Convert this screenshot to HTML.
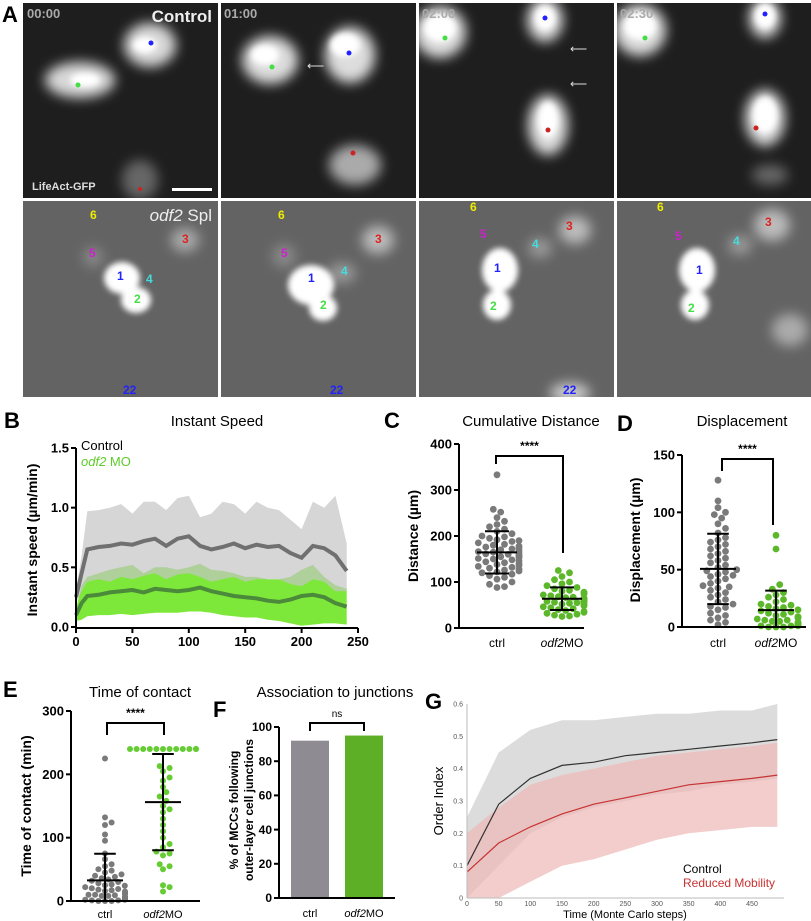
<!DOCTYPE html>
<html><head><meta charset="utf-8"><style>
html,body{margin:0;padding:0;background:#fff}
svg{display:block;font-family:"Liberation Sans",sans-serif}
</style></head><body>
<svg id="fig" width="811" height="921" viewBox="0 0 811 921" xmlns="http://www.w3.org/2000/svg">
<defs>
<filter id="blur4" x="-50%" y="-50%" width="200%" height="200%"><feGaussianBlur stdDeviation="6"/></filter>
<filter id="blur2" x="-50%" y="-50%" width="200%" height="200%"><feGaussianBlur stdDeviation="3"/></filter>
<clipPath id="c1"><rect x="23" y="3" width="195" height="195"/></clipPath>
<clipPath id="c2"><rect x="221" y="3" width="195" height="195"/></clipPath>
<clipPath id="c3"><rect x="419" y="3" width="195" height="195"/></clipPath>
<clipPath id="c4"><rect x="617" y="3" width="194" height="195"/></clipPath>
<clipPath id="c5"><rect x="23" y="201" width="195" height="196"/></clipPath>
<clipPath id="c6"><rect x="221" y="201" width="195" height="196"/></clipPath>
<clipPath id="c7"><rect x="419" y="201" width="195" height="196"/></clipPath>
<clipPath id="c8"><rect x="617" y="201" width="194" height="196"/></clipPath>
</defs>
<text x="2" y="22" font-size="22" font-weight="bold">A</text>
<g>
 <g clip-path="url(#c1)">
  <rect x="23" y="3" width="195" height="195" fill="#1e1e1e"/>
  <g filter="url(#blur4)" fill="#d8d8d8"><ellipse cx="150" cy="45" rx="26" ry="22"/><ellipse cx="80" cy="80" rx="35" ry="18"/><ellipse cx="140" cy="180" rx="18" ry="20" fill="#666"/></g>
  <g filter="url(#blur2)" fill="#fff"><ellipse cx="145" cy="45" rx="12" ry="8"/><ellipse cx="85" cy="80" rx="15" ry="7"/></g>
  <circle cx="151" cy="43" r="2.5" fill="#2222ff"/><circle cx="78" cy="85" r="2.5" fill="#44dd44"/><circle cx="140" cy="189" r="2" fill="#cc2222"/>
  <text x="27" y="18" font-size="13" font-weight="bold" fill="#aaa">00:00</text>
  <text x="212" y="22" font-size="17" font-weight="bold" fill="#eee" text-anchor="end">Control</text>
  <text x="32" y="190" font-size="11" font-weight="bold" fill="#ddd">LifeAct-GFP</text>
  <rect x="172" y="188" width="40" height="3" fill="#fff"/>
 </g>
 <g clip-path="url(#c2)">
  <rect x="221" y="3" width="195" height="195" fill="#1e1e1e"/>
  <g filter="url(#blur4)" fill="#ddd"><ellipse cx="270" cy="60" rx="28" ry="24"/><ellipse cx="350" cy="55" rx="25" ry="28"/><ellipse cx="355" cy="165" rx="26" ry="20" fill="#aaa"/></g>
  <g filter="url(#blur2)" fill="#fff"><ellipse cx="265" cy="55" rx="14" ry="10"/><ellipse cx="345" cy="45" rx="15" ry="12"/></g>
  <circle cx="272" cy="67" r="2.5" fill="#44dd44"/><circle cx="349" cy="53" r="2.5" fill="#2222ff"/><circle cx="353" cy="153" r="2.5" fill="#cc2222"/>
  <text x="307" y="70" font-size="12" fill="#ddd">⟵</text>
  <text x="224" y="18" font-size="13" font-weight="bold" fill="#aaa">01:00</text>
 </g>
 <g clip-path="url(#c3)">
  <rect x="419" y="3" width="195" height="195" fill="#1e1e1e"/>
  <g filter="url(#blur4)" fill="#ddd"><ellipse cx="440" cy="32" rx="26" ry="26"/><ellipse cx="545" cy="20" rx="18" ry="22"/><ellipse cx="548" cy="125" rx="20" ry="30"/></g>
  <g filter="url(#blur2)" fill="#fff"><ellipse cx="440" cy="28" rx="16" ry="14"/><ellipse cx="545" cy="18" rx="10" ry="12"/><ellipse cx="548" cy="120" rx="10" ry="18"/></g>
  <circle cx="445" cy="38" r="2.5" fill="#44dd44"/><circle cx="545" cy="18" r="2.5" fill="#2222ff"/><circle cx="548" cy="130" r="2.5" fill="#cc2222"/>
  <text x="570" y="53" font-size="12" fill="#ddd">⟵</text><text x="570" y="88" font-size="12" fill="#ddd">⟵</text>
  <text x="422" y="18" font-size="13" font-weight="bold" fill="#aaa">02:00</text>
 </g>
 <g clip-path="url(#c4)">
  <rect x="617" y="3" width="194" height="195" fill="#1e1e1e"/>
  <g filter="url(#blur4)" fill="#ddd"><ellipse cx="640" cy="30" rx="26" ry="26"/><ellipse cx="765" cy="18" rx="16" ry="20"/><ellipse cx="765" cy="118" rx="20" ry="28"/><ellipse cx="770" cy="175" rx="18" ry="10" fill="#666"/></g>
  <g filter="url(#blur2)" fill="#fff"><ellipse cx="640" cy="26" rx="16" ry="14"/><ellipse cx="765" cy="16" rx="10" ry="12"/><ellipse cx="765" cy="115" rx="12" ry="18"/></g>
  <circle cx="645" cy="38" r="2.5" fill="#44dd44"/><circle cx="765" cy="14" r="2.5" fill="#2222ff"/><circle cx="756" cy="128" r="2.5" fill="#cc2222"/>
  <text x="620" y="18" font-size="13" font-weight="bold" fill="#aaa">02:30</text>
 </g>
</g>
<g>
 <g clip-path="url(#c5)">
  <rect x="23" y="201" width="195" height="196" fill="#636363"/>
  <g filter="url(#blur4)" fill="#ddd"><ellipse cx="185" cy="240" rx="14" ry="12" fill="#aaa"/><ellipse cx="93" cy="257" rx="10" ry="10" fill="#888"/></g>
  <g filter="url(#blur2)" fill="#fff"><ellipse cx="122" cy="278" rx="18" ry="16"/><ellipse cx="136" cy="300" rx="15" ry="13"/></g>
  <text x="90" y="219" font-size="12" font-weight="bold" fill="#ee0">6</text><text x="182" y="243" font-size="12" font-weight="bold" fill="#d22">3</text><text x="89" y="257" font-size="12" font-weight="bold" fill="#c2c">5</text><text x="117" y="280" font-size="12" font-weight="bold" fill="#22f">1</text><text x="146" y="283" font-size="12" font-weight="bold" fill="#4dd">4</text><text x="134" y="303" font-size="12" font-weight="bold" fill="#4d4">2</text>
  <text x="212" y="221" font-size="17" fill="#eee" text-anchor="end"><tspan font-style="italic">odf2</tspan> Spl</text>
 </g>
 <g clip-path="url(#c6)">
  <rect x="221" y="201" width="195" height="196" fill="#636363"/>
  <g filter="url(#blur4)"><ellipse cx="378" cy="240" rx="16" ry="14" fill="#bbb"/><ellipse cx="284" cy="256" rx="12" ry="12" fill="#888"/><ellipse cx="342" cy="273" rx="14" ry="10" fill="#999"/></g>
  <g filter="url(#blur2)" fill="#fff"><ellipse cx="311" cy="285" rx="23" ry="20"/><ellipse cx="323" cy="308" rx="14" ry="13"/></g>
  <text x="278" y="219" font-size="12" font-weight="bold" fill="#ee0">6</text><text x="375" y="243" font-size="12" font-weight="bold" fill="#d22">3</text><text x="281" y="257" font-size="12" font-weight="bold" fill="#c2c">5</text><text x="308" y="282" font-size="12" font-weight="bold" fill="#22f">1</text><text x="341" y="275" font-size="12" font-weight="bold" fill="#4dd">4</text><text x="320" y="309" font-size="12" font-weight="bold" fill="#4d4">2</text>
 </g>
 <g clip-path="url(#c7)">
  <rect x="419" y="201" width="195" height="196" fill="#636363"/>
  <g filter="url(#blur4)"><ellipse cx="575" cy="230" rx="16" ry="14" fill="#bbb"/><ellipse cx="540" cy="248" rx="12" ry="10" fill="#999"/><ellipse cx="570" cy="393" rx="20" ry="10" fill="#ccc"/></g>
  <g filter="url(#blur2)" fill="#fff"><ellipse cx="500" cy="270" rx="18" ry="22"/><ellipse cx="497" cy="305" rx="14" ry="15"/></g>
  <text x="470" y="211" font-size="12" font-weight="bold" fill="#ee0">6</text><text x="566" y="230" font-size="12" font-weight="bold" fill="#d22">3</text><text x="480" y="238" font-size="12" font-weight="bold" fill="#c2c">5</text><text x="494" y="272" font-size="12" font-weight="bold" fill="#22f">1</text><text x="532" y="248" font-size="12" font-weight="bold" fill="#4dd">4</text><text x="490" y="310" font-size="12" font-weight="bold" fill="#4d4">2</text><text x="563" y="394" font-size="12" font-weight="bold" fill="#22f">22</text>
 </g>
 <g clip-path="url(#c8)">
  <rect x="617" y="201" width="194" height="196" fill="#636363"/>
  <g filter="url(#blur4)"><ellipse cx="772" cy="225" rx="18" ry="16" fill="#bbb"/><ellipse cx="740" cy="245" rx="12" ry="10" fill="#999"/><ellipse cx="790" cy="330" rx="18" ry="16" fill="#aaa"/></g>
  <g filter="url(#blur2)" fill="#fff"><ellipse cx="697" cy="270" rx="18" ry="22"/><ellipse cx="695" cy="305" rx="14" ry="15"/></g>
  <text x="657" y="211" font-size="12" font-weight="bold" fill="#ee0">6</text><text x="765" y="226" font-size="12" font-weight="bold" fill="#d22">3</text><text x="675" y="240" font-size="12" font-weight="bold" fill="#c2c">5</text><text x="696" y="274" font-size="12" font-weight="bold" fill="#22f">1</text><text x="733" y="245" font-size="12" font-weight="bold" fill="#4dd">4</text><text x="688" y="312" font-size="12" font-weight="bold" fill="#4d4">2</text>
 </g>
 <g><text x="123" y="394" font-size="12" font-weight="bold" fill="#22f">22</text><text x="330" y="394" font-size="12" font-weight="bold" fill="#22f">22</text></g>
</g>
<g id="charts"></g>
</svg>
<script>
// ---------- Panel B data ----------
const bTime = [0,5,10,20,30,40,50,60,70,80,90,100,110,120,130,140,150,160,170,180,190,200,210,220,230,240];
const bCtrlMean = [0.25,0.45,0.65,0.67,0.68,0.70,0.69,0.72,0.74,0.68,0.74,0.76,0.68,0.65,0.67,0.70,0.66,0.69,0.67,0.68,0.62,0.58,0.68,0.66,0.60,0.47];
const bCtrlUpper = [0.30,0.60,0.97,0.98,1.00,1.03,0.95,1.05,1.05,0.98,1.08,1.10,0.92,0.95,1.05,1.03,0.95,1.05,1.00,0.98,0.90,0.82,1.05,1.00,1.10,0.70];
const bCtrlLower = [0.20,0.30,0.38,0.40,0.38,0.42,0.40,0.43,0.45,0.40,0.44,0.45,0.42,0.38,0.40,0.42,0.38,0.40,0.40,0.40,0.36,0.34,0.40,0.38,0.30,0.30];
const bOdfMean = [0.10,0.20,0.26,0.27,0.29,0.30,0.31,0.29,0.32,0.31,0.30,0.31,0.33,0.30,0.28,0.26,0.25,0.24,0.22,0.21,0.23,0.26,0.27,0.25,0.20,0.17];
const bOdfUpper = [0.15,0.35,0.42,0.45,0.48,0.50,0.52,0.45,0.50,0.50,0.48,0.50,0.53,0.48,0.47,0.45,0.42,0.42,0.40,0.40,0.42,0.48,0.52,0.42,0.35,0.32];
const bOdfLower = [0.05,0.06,0.09,0.10,0.10,0.11,0.10,0.11,0.12,0.12,0.12,0.13,0.13,0.12,0.10,0.09,0.08,0.08,0.06,0.05,0.03,0.01,0.02,0.03,0.03,0.02];
const bXTicks = [0,50,100,150,200,250];
const bYTicks = [0.0,0.5,1.0,1.5];
// ---------- Panel C data ----------
const cCtrl = [333,258,252,240,232,225,220,215,210,205,200,198,195,192,190,188,185,182,180,178,176,174,172,170,168,166,165,163,161,160,158,156,155,153,151,150,148,146,144,142,140,138,136,134,132,130,128,126,124,122,120,117,114,110,106,100,95,90,88];
const cOdf = [125,120,112,105,100,96,92,88,85,82,80,78,76,74,72,70,68,67,66,65,64,63,62,61,60,59,58,57,56,55,54,53,52,50,48,46,44,42,40,38,36,34,32,30,28,26,25];
const cYTicks = [0,100,200,300,400];
// ---------- Panel D data ----------
const dCtrl = [128,110,104,100,98,95,90,86,82,78,76,74,72,70,68,66,64,62,60,58,56,54,52,50,49,48,46,45,44,42,40,38,36,35,34,32,30,28,26,24,22,20,18,17,15,12,10,8,6,4,2];
const dOdf = [80,68,37,33,30,28,26,24,22,20,19,18,17,16,15,14,13,12,11,10,9,8,8,7,6,6,5,5,4,4,3,3,2,2,1,1,1,0,0,0];
const dYTicks = [0,50,100,150];
// ---------- Panel E data ----------
const eCtrl = [225,132,124,120,105,95,75,66,58,55,50,48,45,42,40,38,36,34,32,30,28,26,25,24,22,20,19,18,17,16,15,14,13,12,11,10,10,9,8,8,7,6,6,5,5,4,4,3,3,2,2,1,1,0,0,0];
const eOdf = [240,240,240,240,240,240,240,240,240,240,240,240,213,210,205,195,190,180,172,165,158,150,145,140,130,120,110,100,90,85,78,75,72,58,55,50,25,22,15];
const eYTicks = [0,100,200,300];
// ---------- Panel F data ----------
const fCats = ["ctrl","odf2MO"];
const fVals = [92,95];
const fYTicks = [0,20,40,60,80,100];
// ---------- Panel G data ----------
const gSteps = [0,50,100,150,200,250,300,350,400,450,490];
const gCtrlMean = [0.10,0.29,0.37,0.41,0.42,0.44,0.45,0.46,0.47,0.48,0.49];
const gCtrlUpper = [0.25,0.45,0.52,0.55,0.55,0.56,0.57,0.57,0.58,0.58,0.60];
const gCtrlLower = [0.00,0.10,0.20,0.25,0.28,0.30,0.32,0.33,0.35,0.36,0.37];
const gRedMean = [0.08,0.17,0.22,0.26,0.29,0.31,0.33,0.35,0.36,0.37,0.38];
const gRedUpper = [0.20,0.28,0.35,0.38,0.40,0.42,0.44,0.45,0.46,0.47,0.48];
const gRedLower = [0.00,0.00,0.05,0.10,0.12,0.15,0.18,0.20,0.21,0.22,0.22];
const gXTicks = [0,50,100,150,200,250,300,350,400,450];
const gYTicks = [0,0.1,0.2,0.3,0.4,0.5,0.6];

const NS = "http://www.w3.org/2000/svg";
const root = document.getElementById("charts");
function add(parent, tag, attrs, name, text) {
  const el = document.createElementNS(NS, tag);
  for (const k in attrs) el.setAttribute(k, attrs[k]);
  
  
  if (text !== undefined) el.textContent = text;
  parent.appendChild(el);
  return el;
}
function lin(d0, d1, r0, r1) { return v => r0 + (v - d0) * (r1 - r0) / (d1 - d0); }
function mean(a) { return a.reduce((s, v) => s + v, 0) / a.length; }
function sd(a) { const m = mean(a); return Math.sqrt(a.reduce((s, v) => s + (v - m) * (v - m), 0) / (a.length - 1)); }
function bandPath(xs, up, lo, sx, sy) {
  let d = "";
  xs.forEach((x, i) => { d += (i ? "L" : "M") + sx(x).toFixed(1) + "," + sy(up[i]).toFixed(1); });
  for (let i = xs.length - 1; i >= 0; i--) d += "L" + sx(xs[i]).toFixed(1) + "," + sy(lo[i]).toFixed(1);
  return d + "Z";
}
function linePath(xs, ys, sx, sy) {
  return xs.map((x, i) => (i ? "L" : "M") + sx(x).toFixed(1) + "," + sy(ys[i]).toFixed(1)).join("");
}
function yAxis(g, x, y0, y1, ticks, sy, fmt, size, name) {
  add(g, "line", {x1: x, y1: y0, x2: x, y2: y1, stroke: "#000", "stroke-width": 2}, name + "-line");
  ticks.forEach(t => {
    add(g, "line", {x1: x - 5, y1: sy(t), x2: x, y2: sy(t), stroke: "#000", "stroke-width": 2}, name + "-tick");
    add(g, "text", {x: x - 7, y: sy(t) + size * 0.35, "font-size": size, "font-weight": "bold", "text-anchor": "end"}, name + "-tick-label", fmt(t));
  });
}
function swarm(g, vals, cx, sy, r, color, name, maxw) {
  const sorted = vals.slice().sort((a, b) => a - b);
  const placed = [];
  sorted.forEach(v => {
    const y = sy(v);
    let off = 0;
    for (let k = 0; k < 60; k++) {
      const cand = k === 0 ? 0 : (k % 2 ? 1 : -1) * Math.ceil(k / 2) * r * 1.1;
      if (Math.abs(cand) > maxw) { off = (k % 2 ? 1 : -1) * maxw; break; }
      if (placed.every(p => (p.x - (cx + cand)) ** 2 + (p.y - y) ** 2 >= (2 * r * 0.95) ** 2)) { off = cand; break; }
    }
    placed.push({x: cx + off, y: y});
    add(g, "circle", {cx: (cx + off).toFixed(1), cy: y.toFixed(1), r: r, fill: color}, name);
  });
}
function errBar(g, vals, cx, sy, w, name) {
  const m = mean(vals), s = sd(vals);
  add(g, "line", {x1: cx, y1: sy(Math.max(m - s, 0)), x2: cx, y2: sy(m + s), stroke: "#000", "stroke-width": 2}, name + "-sd");
  add(g, "line", {x1: cx - w, y1: sy(m), x2: cx + w, y2: sy(m), stroke: "#000", "stroke-width": 2}, name + "-mean");
  add(g, "line", {x1: cx - w * 0.6, y1: sy(m + s), x2: cx + w * 0.6, y2: sy(m + s), stroke: "#000", "stroke-width": 2}, name + "-cap");
  add(g, "line", {x1: cx - w * 0.6, y1: sy(Math.max(m - s, 0)), x2: cx + w * 0.6, y2: sy(Math.max(m - s, 0)), stroke: "#000", "stroke-width": 2}, name + "-cap");
}
function bracket(g, x1, x2, top, l1, l2, label, size, name) {
  add(g, "path", {d: `M${x1},${l1}L${x1},${top}L${x2},${top}L${x2},${l2}`, fill: "none", stroke: "#000", "stroke-width": 2}, name);
  add(g, "text", {x: (x1 + x2) / 2, y: top - 6, "font-size": size, "font-weight": label === "ns" ? "normal" : "bold", "text-anchor": "middle"}, name + "-label", label);
}
function catLabels(g, x1, x2, y, size, name) {
  add(g, "text", {x: x1, y: y, "font-size": size, "text-anchor": "middle"}, name + "-ctrl-label", "ctrl");
  const t = add(g, "text", {x: x2, y: y, "font-size": size, "text-anchor": "middle"}, name + "-odf2-label");
  add(t, "tspan", {"font-style": "italic"}, name + "-odf2-italic", "odf2");
  add(t, "tspan", {}, name + "-odf2-mo", "MO");
}
function vlabel(g, x, y, size, txt, name, weight) {
  add(g, "text", {x: x, y: y, "font-size": size, "font-weight": weight || "bold", "text-anchor": "middle", transform: `rotate(-90 ${x} ${y})`}, name, txt);
}

// ===== Panel B =====
{
  const g = add(root, "g", {}, "panel-b-instant-speed");
  const sx = lin(0, 250, 76, 358), sy = lin(0, 1.5, 627, 448);
  add(g, "text", {x: 4, y: 428, "font-size": 22, "font-weight": "bold"}, "panel-label-b", "B");
  add(g, "text", {x: 217, y: 426, "font-size": 15, "text-anchor": "middle"}, "chart-title", "Instant Speed");
  add(g, "path", {d: bandPath(bTime, bOdfUpper, bOdfLower, sx, sy), fill: "#7ee83a"}, "odf2-sd-band");
  add(g, "path", {d: bandPath(bTime, bCtrlUpper, bCtrlLower, sx, sy), fill: "#c4c4c4", opacity: 0.7}, "control-sd-band");
  add(g, "path", {d: linePath(bTime, bCtrlMean, sx, sy), fill: "none", stroke: "#707070", "stroke-width": 4}, "control-mean-line");
  add(g, "path", {d: linePath(bTime, bOdfMean, sx, sy), fill: "none", stroke: "#4a8a3a", "stroke-width": 4}, "odf2-mean-line");
  yAxis(g, 76, 448, 628, bYTicks, sy, t => t.toFixed(1), 13, "y-axis");
  add(g, "line", {x1: 75, y1: 628, x2: 358, y2: 628, stroke: "#000", "stroke-width": 2}, "x-axis-line");
  bXTicks.forEach(t => {
    add(g, "line", {x1: sx(t), y1: 628, x2: sx(t), y2: 633, stroke: "#000", "stroke-width": 2}, "x-axis-tick");
    add(g, "text", {x: sx(t), y: 646, "font-size": 13, "font-weight": "bold", "text-anchor": "middle"}, "x-tick-label", String(t));
  });
  vlabel(g, 37, 540, 14, "Instant speed (µm/min)", "y-axis-title");
  add(g, "text", {x: 81, y: 450, "font-size": 13}, "legend-control", "Control");
  const lg = add(g, "text", {x: 81, y: 466, "font-size": 13, fill: "#5ecc2a"}, "legend-odf2");
  add(lg, "tspan", {"font-style": "italic"}, "legend-odf2-italic", "odf2");
  add(lg, "tspan", {}, "legend-odf2-mo", " MO");
}
// ===== Panel C =====
{
  const g = add(root, "g", {}, "panel-c-cumulative-distance");
  const sy = lin(0, 400, 628, 444);
  add(g, "text", {x: 384, y: 428, "font-size": 22, "font-weight": "bold"}, "panel-label-c", "C");
  add(g, "text", {x: 531, y: 426, "font-size": 15, "text-anchor": "middle"}, "chart-title", "Cumulative Distance");
  swarm(g, cCtrl, 497, sy, 3.4, "#7a7a7a", "ctrl-point", 22);
  swarm(g, cOdf, 562, sy, 3.4, "#5cb82a", "odf2-point", 22);
  errBar(g, cCtrl, 497, sy, 20, "ctrl-errorbar");
  errBar(g, cOdf, 562, sy, 20, "odf2-errorbar");
  yAxis(g, 459, 444, 629, cYTicks, sy, t => String(t), 13, "y-axis");
  add(g, "line", {x1: 458, y1: 628, x2: 584, y2: 628, stroke: "#000", "stroke-width": 2}, "x-axis-line");
  catLabels(g, 497, 562, 647, 12, "x-axis");
  vlabel(g, 418, 536, 14, "Distance (µm)", "y-axis-title");
  bracket(g, 496, 563, 456, 464, 553, "****", 12, "significance-bracket");
}
// ===== Panel D =====
{
  const g = add(root, "g", {}, "panel-d-displacement");
  const sy = lin(0, 150, 627, 455);
  add(g, "text", {x: 617, y: 431, "font-size": 22, "font-weight": "bold"}, "panel-label-d", "D");
  add(g, "text", {x: 742, y: 426, "font-size": 15, "text-anchor": "middle"}, "chart-title", "Displacement");
  swarm(g, dCtrl, 718, sy, 3.4, "#7a7a7a", "ctrl-point", 20);
  swarm(g, dOdf, 776, sy, 3.4, "#5cb82a", "odf2-point", 22);
  errBar(g, dCtrl, 718, sy, 18, "ctrl-errorbar");
  errBar(g, dOdf, 776, sy, 18, "odf2-errorbar");
  yAxis(g, 682, 455, 628, dYTicks, sy, t => String(t), 13, "y-axis");
  add(g, "line", {x1: 681, y1: 627, x2: 806, y2: 627, stroke: "#000", "stroke-width": 2}, "x-axis-line");
  catLabels(g, 718, 776, 647, 12, "x-axis");
  vlabel(g, 640, 540, 14, "Displacement (µm)", "y-axis-title");
  bracket(g, 722, 773, 459, 471, 525, "****", 12, "significance-bracket");
}
// ===== Panel E =====
{
  const g = add(root, "g", {}, "panel-e-time-of-contact");
  const sy = lin(0, 300, 901, 711);
  add(g, "text", {x: 3, y: 697, "font-size": 22, "font-weight": "bold"}, "panel-label-e", "E");
  add(g, "text", {x: 140, y: 697, "font-size": 15, "text-anchor": "middle"}, "chart-title", "Time of contact");
  swarm(g, eCtrl, 105, sy, 3, "#7a7a7a", "ctrl-point", 20);
  swarm(g, eOdf, 163, sy, 3, "#66cc33", "odf2-point", 33);
  errBar(g, eCtrl, 105, sy, 18, "ctrl-errorbar");
  errBar(g, eOdf, 163, sy, 18, "odf2-errorbar");
  yAxis(g, 71, 711, 902, eYTicks, sy, t => String(t), 13, "y-axis");
  add(g, "line", {x1: 70, y1: 901, x2: 200, y2: 901, stroke: "#000", "stroke-width": 2}, "x-axis-line");
  catLabels(g, 105, 163, 918, 11, "x-axis");
  vlabel(g, 31, 806, 14, "Time of contact (min)", "y-axis-title");
  bracket(g, 107, 164, 723, 735, 735, "****", 12, "significance-bracket");
}
// ===== Panel F =====
{
  const g = add(root, "g", {}, "panel-f-association-junctions");
  const sy = lin(0, 100, 898, 727);
  add(g, "text", {x: 213, y: 717, "font-size": 22, "font-weight": "bold"}, "panel-label-f", "F");
  add(g, "text", {x: 335, y: 697, "font-size": 15, "text-anchor": "middle"}, "chart-title", "Association to junctions");
  const bx = [310, 364], colors = ["#8e8c92", "#5db025"];
  fCats.forEach((c, i) => {
    add(g, "rect", {x: bx[i] - 19, y: sy(fVals[i]), width: 38, height: sy(0) - sy(fVals[i]), fill: colors[i]}, "bar-" + c);
  });
  yAxis(g, 279, 727, 899, fYTicks, sy, t => String(t), 12, "y-axis");
  add(g, "line", {x1: 278, y1: 898, x2: 395, y2: 898, stroke: "#000", "stroke-width": 2}, "x-axis-line");
  catLabels(g, 310, 364, 917, 11, "x-axis");
  vlabel(g, 238, 810, 12, "% of MCCs following", "y-axis-title-line1");
  vlabel(g, 253, 810, 12, "outer-layer cell junctions", "y-axis-title-line2");
  bracket(g, 310, 364, 723, 731, 731, "ns", 10, "significance-bracket");
}
// ===== Panel G =====
{
  const g = add(root, "g", {}, "panel-g-order-index");
  const sx = lin(0, 450, 467, 752), sy = lin(0, 0.6, 898, 704);
  add(g, "text", {x: 425, y: 709, "font-size": 22, "font-weight": "bold"}, "panel-label-g", "G");
  add(g, "path", {d: bandPath(gSteps, gCtrlUpper, gCtrlLower, sx, sy), fill: "#dcdcdc"}, "control-runs-band");
  add(g, "path", {d: bandPath(gSteps, gRedUpper, gRedLower, sx, sy), fill: "#eeb6b6", opacity: 0.7}, "reduced-mobility-runs-band");
  add(g, "path", {d: linePath(gSteps, gCtrlMean, sx, sy), fill: "none", stroke: "#333", "stroke-width": 1.2}, "control-mean-line");
  add(g, "path", {d: linePath(gSteps, gRedMean, sx, sy), fill: "none", stroke: "#c83232", "stroke-width": 1.2}, "reduced-mobility-mean-line");
  add(g, "line", {x1: 467, y1: 704, x2: 467, y2: 898, stroke: "#bbb", "stroke-width": 1}, "y-axis-line");
  add(g, "line", {x1: 467, y1: 898, x2: 784, y2: 898, stroke: "#bbb", "stroke-width": 1}, "x-axis-line");
  gYTicks.forEach(t => {
    add(g, "text", {x: 463, y: sy(t) + 2.5, "font-size": 7, fill: "#555", "text-anchor": "end"}, "y-tick-label", t === 0 ? "0" : t.toFixed(1));
  });
  gXTicks.forEach(t => {
    add(g, "text", {x: sx(t), y: 906, "font-size": 7, fill: "#555", "text-anchor": "middle"}, "x-tick-label", String(t));
  });
  add(g, "text", {x: 625, y: 918, "font-size": 11, "text-anchor": "middle"}, "x-axis-title", "Time (Monte Carlo steps)");
  vlabel(g, 443, 801, 13, "Order Index", "y-axis-title", "normal");
  add(g, "text", {x: 683, y: 873, "font-size": 12}, "legend-control", "Control");
  add(g, "text", {x: 683, y: 887, "font-size": 12, fill: "#c83232"}, "legend-reduced-mobility", "Reduced Mobility");
}
</script>
</body></html>
